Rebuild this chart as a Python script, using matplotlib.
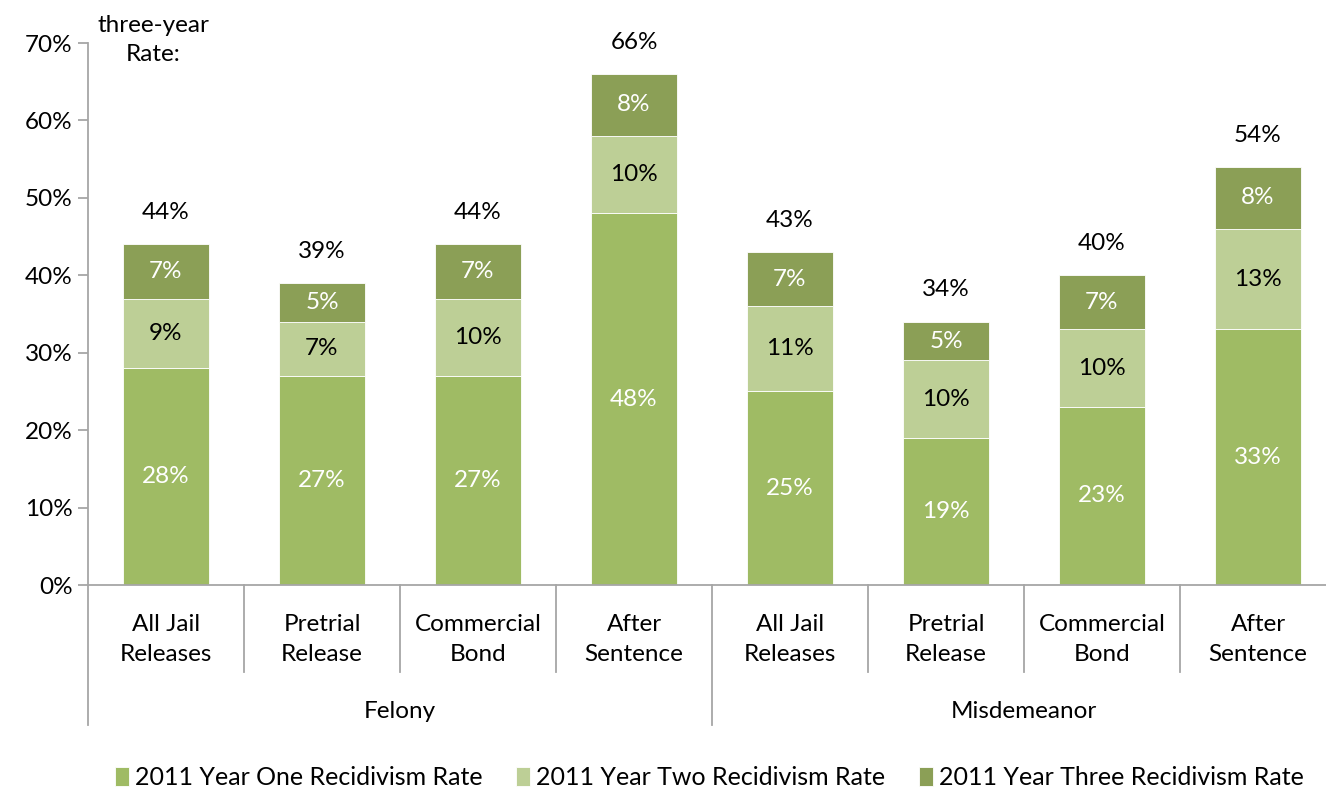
import matplotlib
matplotlib.use("Agg")
import matplotlib.pyplot as plt
import matplotlib.transforms as mtransforms
import numpy as np

plt.rcParams['font.family'] = ['Lato', 'DejaVu Sans']

# Recidivism rates (%) by release type, 2011 cohort
categories = ["All Jail\nReleases", "Pretrial\nRelease", "Commercial\nBond", "After\nSentence",
              "All Jail\nReleases", "Pretrial\nRelease", "Commercial\nBond", "After\nSentence"]
groups = ["Felony", "Misdemeanor"]
year_one = [28, 27, 27, 48, 25, 19, 23, 33]
year_two = [9, 7, 10, 10, 11, 10, 10, 13]
year_three = [7, 5, 7, 8, 7, 5, 7, 8]
three_year = [44, 39, 44, 66, 43, 34, 40, 54]
series_names = ["2011 Year One Recidivism Rate",
                "2011 Year Two Recidivism Rate",
                "2011 Year Three Recidivism Rate"]

c_one, c_two, c_three = "#9fbb64", "#bdcf96", "#8b9f56"
grid_col = "#a6a6a6"
fs = 17.5

fig = plt.figure(figsize=(13.26, 7.92), dpi=100)
ax = fig.add_axes([88 / 1326, 207 / 792, 1248 / 1326, 542 / 792])

x = np.arange(len(categories)) + 0.5
w = 0.55
one = np.array(year_one)
two = np.array(year_two)
three = np.array(year_three)

b1 = ax.bar(x, one, w, color=c_one, edgecolor="white", linewidth=0.6, label=series_names[0])
b2 = ax.bar(x, two, w, bottom=one, color=c_two, edgecolor="white", linewidth=0.6, label=series_names[1])
b3 = ax.bar(x, three, w, bottom=one + two, color=c_three, edgecolor="white", linewidth=0.6, label=series_names[2])

# segment labels
for xi, a, b, c, tot in zip(x, one, two, three, three_year):
    ax.text(xi, a / 2, f"{a}%", ha="center", va="center", color="white", fontsize=fs)
    ax.text(xi, a + b / 2, f"{b}%", ha="center", va="center", color="black", fontsize=fs)
    ax.text(xi, a + b + c / 2, f"{c}%", ha="center", va="center", color="white", fontsize=fs)
    ax.text(xi, tot + 4.1, f"{tot}%", ha="center", va="center", color="black", fontsize=fs)

ax.text(0.42, 70.4, "three-year\nRate:", ha="center", va="center", fontsize=fs,
        linespacing=1.5, clip_on=False)

ax.set_xlim(0, 8)
ax.set_ylim(0, 70)
ax.set_yticks(np.arange(0, 71, 10))
ax.set_yticklabels([f"{v}%" for v in range(0, 71, 10)], fontsize=fs)
ax.set_xticks([])
for s in ["top", "right"]:
    ax.spines[s].set_visible(False)
for s in ["left", "bottom"]:
    ax.spines[s].set_color(grid_col)
    ax.spines[s].set_linewidth(1.3)
ax.tick_params(axis="y", length=7, width=1.3, color=grid_col, pad=4)

# category axis with separators
trans = mtransforms.blended_transform_factory(ax.transData, ax.transAxes)
for i in range(len(categories) + 1):
    low = -0.258 if i % 4 == 0 else -0.161
    ax.plot([i, i], [0, low], color=grid_col, lw=1.3, transform=trans, clip_on=False)
for xi, lab in zip(x, categories):
    ax.text(xi, -0.101, lab, ha="center", va="center", fontsize=fs, transform=trans,
            linespacing=1.5)
for gi, g in enumerate(groups):
    ax.text(gi * 4 + 2, -0.233, g, ha="center", va="center", fontsize=fs, transform=trans)

fig.legend(handles=[b1, b2, b3], loc="center", bbox_to_anchor=(0.535, 0.018), ncol=3,
           frameon=False, fontsize=18, handlelength=0.55, handleheight=0.75,
           handletextpad=0.25, columnspacing=1.35)

fig.savefig("out.png", dpi=100)
